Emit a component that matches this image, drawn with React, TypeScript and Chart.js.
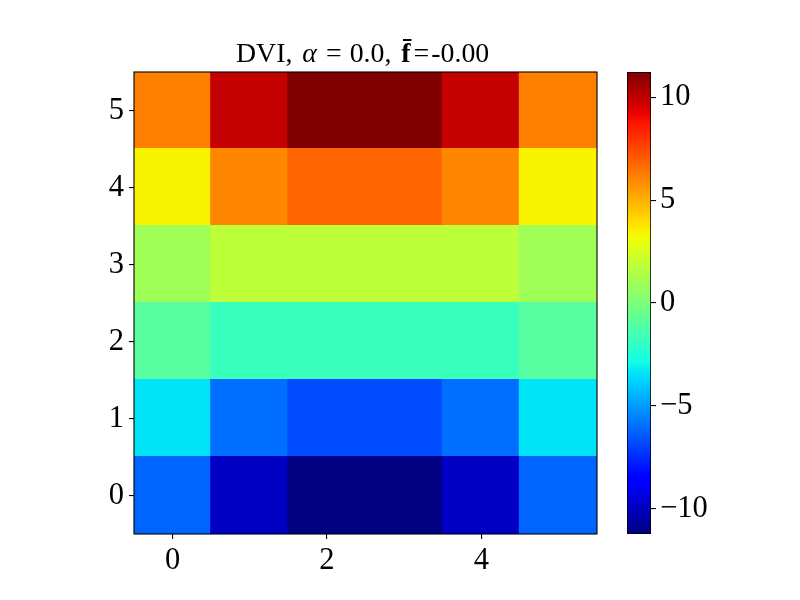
import { useEffect, useRef } from "react"
import { Chart, registerables, type ChartConfiguration } from "chart.js"

Chart.register(...registerables)

// heatmap values, row 0 is the bottom row
const cols = [0, 1, 2, 3, 4, 5]
const rows = [0, 1, 2, 3, 4, 5]
const row0 = [-6.2, -9.9, -11.23, -11.23, -9.9, -6.2]
const row1 = [-3.4, -6.0, -6.8, -6.8, -6.0, -3.4]
const row2 = [-1.0, -1.8, -1.8, -1.8, -1.8, -1.0]
const row3 = [1.0, 1.8, 1.8, 1.8, 1.8, 1.0]
const row4 = [3.4, 6.0, 6.8, 6.8, 6.0, 3.4]
const row5 = [6.2, 9.9, 11.23, 11.23, 9.9, 6.2]
const values = [row0, row1, row2, row3, row4, row5]

const xTicks = [0, 2, 4]
const yTicks = [0, 1, 2, 3, 4, 5]
const cbTicks = [-10, -5, 0, 5, 10]
const vmin = -11.23
const vmax = 11.23

const FONT = "'Liberation Serif', 'Times New Roman', serif"
const TICK_SIZE = 30.5

// matplotlib "jet" segment data
const jetR = [[0, 0], [0.35, 0], [0.66, 1], [0.89, 1], [1, 0.5]]
const jetG = [[0, 0], [0.125, 0], [0.375, 1], [0.64, 1], [0.91, 0], [1, 0]]
const jetB = [[0, 0.5], [0.11, 1], [0.34, 1], [0.65, 0], [1, 0]]

function seg(x: number, pts: number[][]) {
  for (let i = 1; i < pts.length; i++) {
    const [x0, y0] = pts[i - 1]
    const [x1, y1] = pts[i]
    if (x <= x1) return y0 + ((y1 - y0) * (x - x0)) / (x1 - x0)
  }
  return pts[pts.length - 1][1]
}

function jet(t: number) {
  const x = Math.min(1, Math.max(0, t))
  const r = Math.round(seg(x, jetR) * 255)
  const g = Math.round(seg(x, jetG) * 255)
  const b = Math.round(seg(x, jetB) * 255)
  return `rgb(${r},${g},${b})`
}

const colorOf = (v: number) => jet((v - vmin) / (vmax - vmin))
const minus = (v: number) => (v < 0 ? "\u2212" + Math.abs(v) : String(v))

const frame = {
  id: "frame",
  afterDraw(chart: Chart) {
    const { ctx, chartArea: a } = chart
    ctx.save()
    ctx.strokeStyle = "#000"
    ctx.lineWidth = 1.1
    ctx.strokeRect(a.left, a.top, a.right - a.left, a.bottom - a.top)
    ctx.restore()
  },
}

function Heatmap() {
  const ref = useRef<HTMLCanvasElement>(null)

  useEffect(() => {
    if (!ref.current) return

    const config: ChartConfiguration = {
      type: "bar",
      data: {
        datasets: rows.map((r) => ({
          data: cols.map((c) => ({ x: c, y: [r - 0.5, r + 0.5] })),
          backgroundColor: values[r].map(colorOf),
          borderWidth: 0,
          inflateAmount: 1,
          grouped: false,
          barPercentage: 1,
          categoryPercentage: 1,
        })) as any,
      },
      options: {
        animation: false,
        responsive: true,
        maintainAspectRatio: false,
        layout: { padding: { top: 72, right: 13, left: 0, bottom: 0 } },
        plugins: { legend: { display: false }, tooltip: { enabled: false } },
        scales: {
          x: {
            type: "linear",
            min: -0.5,
            max: 5.5,
            offset: false,
            afterBuildTicks: (s: any) => {
              s.ticks = xTicks.map((v) => ({ value: v }))
            },
            afterFit: (s: any) => {
              s.height = 66
            },
            grid: { offset: false, drawOnChartArea: false, drawTicks: true, tickLength: 5, color: "#000", lineWidth: 1.1 },
            border: { display: false },
            ticks: { color: "#000", font: { family: FONT, size: TICK_SIZE }, padding: 4, maxRotation: 0 },
          },
          y: {
            type: "linear",
            min: -0.5,
            max: 5.5,
            afterBuildTicks: (s: any) => {
              s.ticks = yTicks.map((v) => ({ value: v }))
            },
            afterFit: (s: any) => {
              s.width = 134
            },
            grid: { drawOnChartArea: false, drawTicks: true, tickLength: 5, color: "#000", lineWidth: 1.1 },
            border: { display: false },
            ticks: { color: "#000", font: { family: FONT, size: TICK_SIZE }, padding: 5 },
          },
        },
      },
      plugins: [frame],
    }

    const chart = new Chart(ref.current, config)
    return () => chart.destroy()
  }, [])

  return <canvas ref={ref} />
}

function Colorbar() {
  const ref = useRef<HTMLCanvasElement>(null)

  useEffect(() => {
    if (!ref.current) return

    const config: ChartConfiguration = {
      type: "bar",
      data: {
        labels: ["f"],
        datasets: [
          {
            data: [[vmin, vmax]] as any,
            backgroundColor: (ctx: any) => {
              const { chart } = ctx
              const a = chart.chartArea
              if (!a) return "#fff"
              const g = chart.ctx.createLinearGradient(0, a.bottom, 0, a.top)
              for (let i = 0; i <= 64; i++) g.addColorStop(i / 64, jet(i / 64))
              return g
            },
            borderColor: "#000",
            borderWidth: 1.1,
            borderSkipped: false,
            barPercentage: 1,
            categoryPercentage: 1,
          },
        ],
      },
      options: {
        animation: false,
        responsive: true,
        maintainAspectRatio: false,
        layout: { padding: { top: 72, right: 0, left: 17, bottom: 66 } },
        plugins: { legend: { display: false }, tooltip: { enabled: false } },
        scales: {
          x: { type: "category", display: false },
          y: {
            type: "linear",
            position: "right",
            min: vmin,
            max: vmax,
            afterBuildTicks: (s: any) => {
              s.ticks = cbTicks.map((v) => ({ value: v }))
            },
            afterFit: (s: any) => {
              s.width = 149
            },
            grid: { drawOnChartArea: false, drawTicks: true, tickLength: 5, color: "#000", lineWidth: 1.1 },
            border: { display: false },
            ticks: {
              color: "#000",
              font: { family: FONT, size: TICK_SIZE },
              padding: 4,
              callback: (v: any) => minus(Number(v)),
            },
          },
        },
      },
    }

    const chart = new Chart(ref.current, config)
    return () => chart.destroy()
  }, [])

  return <canvas ref={ref} />
}

export default function App() {
  return (
    <div style={{ position: "fixed", left: 0, top: 0, width: 800, height: 600, background: "#fff" }}>
      <div style={{ position: "absolute", left: 0, top: 0, width: 610, height: 600 }}>
        <Heatmap />
      </div>
      <div style={{ position: "absolute", left: 610, top: 0, width: 190, height: 600 }}>
        <Colorbar />
      </div>
      <div
        style={{
          position: "absolute",
          left: 236,
          top: 39,
          fontFamily: FONT,
          fontSize: 27.8,
          lineHeight: 1,
          whiteSpace: "nowrap",
          color: "#000",
        }}
      >
        <span>DVI,</span>
        <i style={{ marginLeft: 10 }}>α</i>
        <span style={{ marginLeft: 9 }}>=</span>
        <span style={{ marginLeft: 8 }}>0.0,</span>
        <b style={{ marginLeft: 10 }}>f̄</b>
        <span style={{ marginLeft: 3 }}>=</span>
        <span style={{ marginLeft: 2 }}>-0.00</span>
      </div>
    </div>
  )
}
